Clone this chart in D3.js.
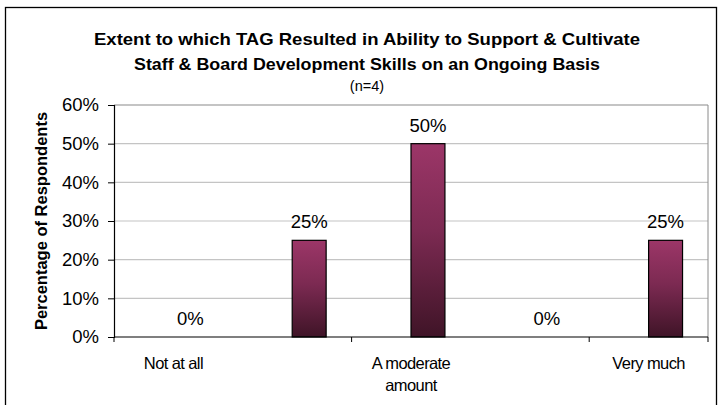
<!DOCTYPE html>
<html>
<head>
<meta charset="utf-8">
<script src="https://cdn.jsdelivr.net/npm/d3@7"></script>
<style>
  body { margin: 0; background: #fff; }
  text { font-family: "Liberation Sans", Arial, sans-serif; }
</style>
</head>
<body>
<script>
// chart data
var categories = ["Not at all", "", "A moderate amount", "", "Very much"];
var values = [0, 0.25, 0.5, 0, 0.25];
var yTicks = [0, 0.1, 0.2, 0.3, 0.4, 0.5, 0.6];
var titleLines = ["Extent to which TAG Resulted in Ability to Support & Cultivate",
                  "Staff & Board Development Skills on an Ongoing Basis"];
var subtitle = "(n=4)";
var yTitle = "Percentage of Respondents";

var svgWidth = 722;
var svgHeight = 405;

var chartMargin = { top: 105, right: 14, bottom: 68, left: 114 };
var chartWidth = svgWidth - chartMargin.left - chartMargin.right;
var chartHeight = svgHeight - chartMargin.top - chartMargin.bottom;

var svg = d3.select("body")
    .append("svg")
    .attr("width", svgWidth)
    .attr("height", svgHeight);

// outer frame
svg.append("rect")
    .attr("x", 5.5).attr("y", 7.5)
    .attr("width", 711).attr("height", 405)
    .attr("fill", "none")
    .attr("stroke", "#000")
    .attr("stroke-width", 1.3);

// bar gradient
var grad = svg.append("defs").append("linearGradient")
    .attr("id", "barGrad")
    .attr("x1", 0).attr("y1", 0).attr("x2", 0).attr("y2", 1);
grad.append("stop").attr("offset", "0%").attr("stop-color", "#9c3668");
grad.append("stop").attr("offset", "45%").attr("stop-color", "#7c2a52");
grad.append("stop").attr("offset", "100%").attr("stop-color", "#3f1427");

// titles (source font renders wider, so stretch to its measured width)
svg.selectAll(".title")
    .data(titleLines)
    .enter().append("text")
    .attr("class", "title")
    .attr("x", 367)
    .attr("y", (d, i) => 45 + i * 25)
    .attr("text-anchor", "middle")
    .attr("textLength", (d, i) => i === 0 ? 546 : 466)
    .attr("lengthAdjust", "spacingAndGlyphs")
    .style("font-size", "16.5px")
    .style("font-weight", "bold")
    .text(d => d);

svg.append("text")
    .attr("x", 367).attr("y", 91)
    .attr("text-anchor", "middle")
    .style("font-size", "14.5px")
    .text(subtitle);

var chartGroup = svg.append("g")
    .attr("transform", `translate(${chartMargin.left}, ${chartMargin.top})`);

var idx = d3.range(categories.length);
var xBand = d3.scaleBand()
    .domain(idx)
    .range([0, chartWidth]);

// two slots per category, the first one empty (as in the source chart)
var xSlot = d3.scaleBand()
    .domain(["empty", "pct"])
    .range([0, xBand.bandwidth()])
    .paddingOuter(0.75);

var yScale = d3.scaleLinear()
    .domain([0, 0.6])
    .range([chartHeight, 0]);

// gridlines
chartGroup.selectAll(".grid")
    .data(yTicks.slice(1))
    .enter().append("line")
    .attr("x1", 0).attr("x2", chartWidth)
    .attr("y1", d => yScale(d)).attr("y2", d => yScale(d))
    .attr("stroke", d => d === 0.6 ? "#8a8a8a" : "#c4c4c4")
    .attr("stroke-width", 1.2);

// right border of plot
chartGroup.append("line")
    .attr("x1", chartWidth).attr("x2", chartWidth)
    .attr("y1", 0).attr("y2", chartHeight)
    .attr("stroke", "#8a8a8a");

// bars
chartGroup.selectAll(".bar")
    .data(values)
    .enter().append("rect")
    .attr("class", "bar")
    .attr("x", (d, i) => xBand(i) + xSlot("pct"))
    .attr("y", d => yScale(d))
    .attr("width", xSlot.bandwidth())
    .attr("height", d => chartHeight - yScale(d))
    .attr("fill", "url(#barGrad)")
    .attr("stroke", d => d > 0 ? "#000" : "none")
    .attr("stroke-width", 1.2);

// value labels
chartGroup.selectAll(".lbl")
    .data(values)
    .enter().append("text")
    .attr("x", (d, i) => xBand(i) + xSlot("pct") + xSlot.bandwidth() / 2)
    .attr("y", d => yScale(d) - 12)
    .attr("text-anchor", "middle")
    .style("font-size", "18.5px")
    .text(d => Math.round(d * 100) + "%");

// y axis
var leftAxis = d3.axisLeft(yScale)
    .tickValues(yTicks)
    .tickFormat(d3.format(".0%"))
    .tickSize(6)
    .tickPadding(9);

var yAxisG = chartGroup.append("g").call(leftAxis);
yAxisG.select(".domain").attr("stroke", "#000").attr("stroke-width", 1.2);
yAxisG.selectAll("text").style("font-size", "18.5px").attr("fill", "#000")
    .attr("font-family", null);

// x axis
var xAxisG = chartGroup.append("g")
    .attr("transform", `translate(0, ${chartHeight})`);
xAxisG.append("line")
    .attr("x1", 0).attr("x2", chartWidth)
    .attr("stroke", "#000").attr("stroke-width", 1.2);
xAxisG.selectAll(".xtick")
    .data([0, 2, 4, 5])
    .enter().append("line")
    .attr("x1", d => d < 5 ? xBand(d) : chartWidth)
    .attr("x2", d => d < 5 ? xBand(d) : chartWidth)
    .attr("y1", 0).attr("y2", 5)
    .attr("stroke", "#000");

var xLabels = xAxisG.selectAll(".xlbl")
    .data(idx.filter(i => categories[i] !== ""))
    .enter().append("text")
    .attr("text-anchor", "middle")
    .attr("x", i => xBand(i) + xBand.bandwidth() / 2)
    .attr("y", 32)
    .style("font-size", "16.5px")
    .style("letter-spacing", "-0.6px");

xLabels.each(function (i) {
    var t = d3.select(this);
    var words = categories[i] === "A moderate amount" ? ["A moderate", "amount"] : [categories[i]];
    words.forEach(function (w, k) {
        t.append("tspan")
            .attr("x", xBand(i) + xBand.bandwidth() / 2)
            .attr("dy", k === 0 ? 0 : 22)
            .text(w);
    });
});

// y title
svg.append("text")
    .attr("transform", `translate(47, ${chartMargin.top + chartHeight / 2}) rotate(-90)`)
    .attr("text-anchor", "middle")
    .style("font-size", "16.5px")
    .style("font-weight", "bold")
    .text(yTitle);
</script>
</body>
</html>
